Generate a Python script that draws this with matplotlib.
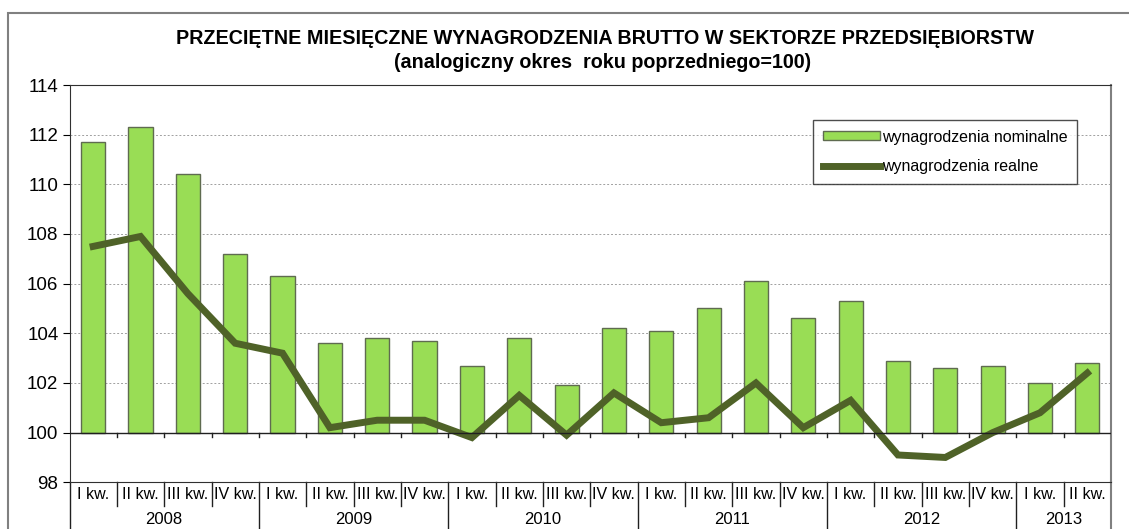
import matplotlib.pyplot as plt
from matplotlib.patches import Rectangle
from matplotlib.lines import Line2D
from matplotlib.patches import Patch
import matplotlib.transforms as mtransforms

quarters = ["I kw.", "II kw.", "III kw.", "IV kw."] * 5 + ["I kw.", "II kw."]
years = ["2008", "2009", "2010", "2011", "2012", "2013"]
quarters_per_year = [4, 4, 4, 4, 4, 2]

nominal = [111.7, 112.3, 110.4, 107.2, 106.3, 103.6, 103.8, 103.7, 102.7, 103.8, 101.9,
           104.2, 104.1, 105.0, 106.1, 104.6, 105.3, 102.9, 102.6, 102.7, 102.0, 102.8]
real = [107.5, 107.9, 105.6, 103.6, 103.2, 100.2, 100.5, 100.5, 99.8, 101.5, 99.9,
        101.6, 100.4, 100.6, 102.0, 100.2, 101.3, 99.1, 99.0, 100.0, 100.8, 102.4]

plt.rcParams['font.family'] = ['Liberation Sans', 'DejaVu Sans']

W, H = 1129, 529
fig = plt.figure(figsize=(W / 100, H / 100), dpi=100)

# outer frame of the chart
fig.patches.append(Rectangle((8 / W, -0.1), 1.2, (H - 13) / H + 0.1, transform=fig.transFigure,
                             fill=False, edgecolor='#808080', linewidth=1.5))

left, right, top, bottom = 69.5, 1111, 85, 482.3
ax = fig.add_axes([left / W, (H - bottom) / H, (right - left) / W, (bottom - top) / H])

n = len(nominal)
x = list(range(n))
bar_color = '#99DD55'
line_color = '#4F6228'

ax.bar(x, [v - 100 for v in nominal], bottom=100, width=0.51, color=bar_color,
       edgecolor='#5F6B50', linewidth=1.0, zorder=3)
ax.plot(x, real, color=line_color, linewidth=5, solid_joinstyle='miter', zorder=4)

ax.set_xlim(-0.5, n - 0.5)
ax.set_ylim(98, 114)
ax.set_yticks(range(98, 115, 2))
ax.tick_params(axis='y', labelsize=13.5, length=5, direction='out', pad=3)
ax.set_xticks([])

for yv in range(102, 114, 2):
    ax.axhline(yv, color='#A0A0A0', linestyle=(0, (2, 2)), linewidth=0.7, zorder=1)

# category axis at 100 with ticks between quarters
ax.axhline(100, color='#202020', linewidth=1.0, zorder=5)
for b in range(1, n):
    ax.plot([b - 0.5, b - 0.5], [100, 99.84], color='#202020', linewidth=1.0, zorder=5)

for side in ['left', 'top']:
    ax.spines[side].set_color('#303030')
ax.spines['bottom'].set_color('#303030')
ax.spines['right'].set_color('#808080')
ax.spines['right'].set_linewidth(1.5)

# two-level category labels below the plot
trans = mtransforms.blended_transform_factory(ax.transData, ax.transAxes)
ax_h = bottom - top
for i, q in enumerate(quarters):
    ax.text(i, -12 / ax_h, q, transform=trans, ha='center', va='center', fontsize=11.5)

year_bounds = [0]
for c in quarters_per_year:
    year_bounds.append(year_bounds[-1] + c)
for b in range(1, n):
    if b in year_bounds:
        continue
    ax.plot([b - 0.5, b - 0.5], [0, -24 / ax_h], transform=trans, color='#202020',
            linewidth=1.0, clip_on=False)
for b in year_bounds:
    col = '#808080' if b == n else '#202020'
    lw = 1.5 if b == n else 1.0
    ax.plot([b - 0.5, b - 0.5], [0, -60 / ax_h], transform=trans, color=col,
            linewidth=lw, clip_on=False)
for k, yr in enumerate(years):
    mid = (year_bounds[k] + year_bounds[k + 1]) / 2 - 0.5
    ax.text(mid, -37 / ax_h, yr, transform=trans, ha='center', va='center', fontsize=12)

fig.text(605 / W, 1 - 38 / H, "PRZECIĘTNE MIESIĘCZNE WYNAGRODZENIA BRUTTO W SEKTORZE PRZEDSIĘBIORSTW",
         ha='center', va='center', fontsize=14.2, fontweight='bold')
fig.text(603 / W, 1 - 62 / H, "(analogiczny okres  roku poprzedniego=100)",
         ha='center', va='center', fontsize=14.2, fontweight='bold')

handles = [Patch(facecolor=bar_color, edgecolor='#5F6B50', linewidth=1.0),
           Line2D([], [], color=line_color, linewidth=5)]
leg = ax.legend(handles, ["wynagrodzenia nominalne", "wynagrodzenia realne"],
                loc='upper left', bbox_to_anchor=((813 - left) / (right - left), 1 - (120 - top) / ax_h),
                fontsize=11.5, frameon=True, fancybox=False, edgecolor='#202020',
                handlelength=3.6, handleheight=0.5, labelspacing=0.9, borderpad=0.6,
                handletextpad=0.1, borderaxespad=0)
leg.get_frame().set_linewidth(1.0)
leg.set_zorder(6)

fig.savefig("out.png", dpi=100)
